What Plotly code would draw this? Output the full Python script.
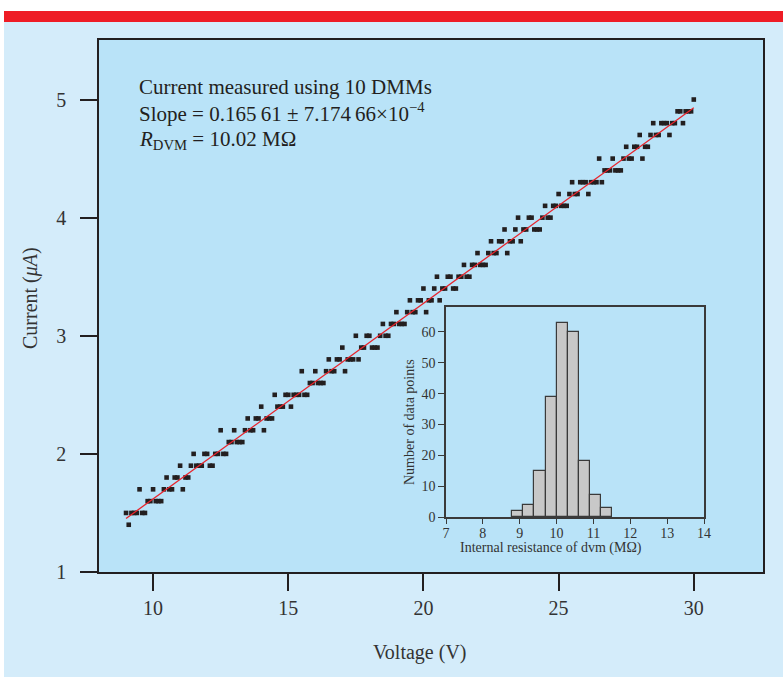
import plotly.graph_objects as go

# ---------------- data ----------------
voltage = [
    9.0, 9.1, 9.2, 9.3, 9.4, 9.5, 9.6, 9.7, 9.8, 9.9,
    10.0, 10.1, 10.2, 10.3, 10.4, 10.5, 10.6, 10.7, 10.8, 10.9,
    11.0, 11.1, 11.2, 11.3, 11.4, 11.5, 11.6, 11.7, 11.8, 11.9,
    12.0, 12.1, 12.2, 12.3, 12.4, 12.5, 12.6, 12.7, 12.8, 12.9,
    13.0, 13.1, 13.2, 13.3, 13.4, 13.5, 13.6, 13.7, 13.8, 13.9,
    14.0, 14.1, 14.2, 14.3, 14.4, 14.5, 14.6, 14.7, 14.8, 14.9,
    15.0, 15.1, 15.2, 15.3, 15.4, 15.5, 15.6, 15.7, 15.8, 15.9,
    16.0, 16.1, 16.2, 16.3, 16.4, 16.5, 16.6, 16.7, 16.8, 16.9,
    17.0, 17.1, 17.2, 17.3, 17.4, 17.5, 17.6, 17.7, 17.8, 17.9,
    18.0, 18.1, 18.2, 18.3, 18.4, 18.5, 18.6, 18.7, 18.8, 18.9,
    19.0, 19.1, 19.2, 19.3, 19.4, 19.5, 19.6, 19.7, 19.8, 19.9,
    20.0, 20.1, 20.2, 20.3, 20.4, 20.5, 20.6, 20.7, 20.8, 20.9,
    21.0, 21.1, 21.2, 21.3, 21.4, 21.5, 21.6, 21.7, 21.8, 21.9,
    22.0, 22.1, 22.2, 22.3, 22.4, 22.5, 22.6, 22.7, 22.8, 22.9,
    23.0, 23.1, 23.2, 23.3, 23.4, 23.5, 23.6, 23.7, 23.8, 23.9,
    24.0, 24.1, 24.2, 24.3, 24.4, 24.5, 24.6, 24.7, 24.8, 24.9,
    25.0, 25.1, 25.2, 25.3, 25.4, 25.5, 25.6, 25.7, 25.8, 25.9,
    26.0, 26.1, 26.2, 26.3, 26.4, 26.5, 26.6, 26.7, 26.8, 26.9,
    27.0, 27.1, 27.2, 27.3, 27.4, 27.5, 27.6, 27.7, 27.8, 27.9,
    28.0, 28.1, 28.2, 28.3, 28.4, 28.5, 28.6, 28.7, 28.8, 28.9,
    29.0, 29.1, 29.2, 29.3, 29.4, 29.5, 29.6, 29.7, 29.8, 29.9,
    30.0,
]
current = [
    1.5, 1.4, 1.5, 1.5, 1.5, 1.7, 1.5, 1.5, 1.6, 1.6,
    1.7, 1.6, 1.6, 1.6, 1.7, 1.8, 1.7, 1.7, 1.8, 1.8,
    1.9, 1.7, 1.8, 1.8, 1.9, 2.0, 1.9, 1.9, 1.9, 2.0,
    2.0, 1.9, 1.9, 2.0, 2.0, 2.2, 2.0, 2.0, 2.1, 2.1,
    2.2, 2.1, 2.1, 2.1, 2.2, 2.3, 2.2, 2.2, 2.3, 2.3,
    2.4, 2.2, 2.3, 2.3, 2.3, 2.5, 2.4, 2.4, 2.4, 2.5,
    2.5, 2.4, 2.5, 2.5, 2.5, 2.7, 2.5, 2.5, 2.6, 2.6,
    2.7, 2.6, 2.6, 2.6, 2.7, 2.8, 2.7, 2.7, 2.8, 2.8,
    2.9, 2.7, 2.8, 2.8, 2.8, 3.0, 2.8, 2.9, 2.9, 3.0,
    3.0, 2.9, 2.9, 2.9, 3.0, 3.1, 3.0, 3.0, 3.1, 3.1,
    3.2, 3.1, 3.1, 3.1, 3.2, 3.3, 3.2, 3.2, 3.3, 3.3,
    3.4, 3.2, 3.3, 3.3, 3.4, 3.5, 3.3, 3.4, 3.4, 3.5,
    3.5, 3.4, 3.4, 3.5, 3.5, 3.6, 3.5, 3.5, 3.6, 3.6,
    3.7, 3.6, 3.6, 3.6, 3.7, 3.8, 3.7, 3.7, 3.8, 3.8,
    3.9, 3.7, 3.8, 3.8, 3.9, 4.0, 3.8, 3.9, 3.9, 4.0,
    4.0, 3.9, 3.9, 3.9, 4.0, 4.1, 4.0, 4.0, 4.1, 4.1,
    4.2, 4.1, 4.1, 4.1, 4.2, 4.3, 4.2, 4.2, 4.3, 4.3,
    4.3, 4.2, 4.3, 4.3, 4.3, 4.5, 4.3, 4.4, 4.4, 4.4,
    4.5, 4.4, 4.4, 4.4, 4.5, 4.6, 4.5, 4.5, 4.6, 4.6,
    4.7, 4.5, 4.6, 4.6, 4.7, 4.8, 4.7, 4.7, 4.8, 4.8,
    4.8, 4.7, 4.8, 4.8, 4.9, 4.9, 4.8, 4.9, 4.9, 4.9,
    5.0,
]
fit_voltage = [9.0, 30.0]
fit_current = [1.453, 4.93]

bin_left = [8.8, 9.1, 9.4, 9.7, 10.0, 10.3, 10.6, 10.9, 11.2]
bin_counts = [2, 4, 15, 39, 63, 60, 18, 7, 3]
bin_width = 0.3

x_ticks = [10, 15, 20, 25, 30]
y_ticks = [1, 2, 3, 4, 5]
inset_x_ticks = [7, 8, 9, 10, 11, 12, 13, 14]
inset_y_ticks = [0, 10, 20, 30, 40, 50, 60]

# ---------------- layout helpers ----------------
W, H = 783, 677
ML, MR, MT, MB = 99, 20, 40, 105
PW, PH = W - ML - MR, H - MT - MB


def fx(px):
    return (px - ML) / PW


def fy(py):
    return (H - MB - py) / PH


SERIF = "Liberation Serif, Times New Roman, serif"
INK = "#231F20"
TICKINK = "#333333"

fig = go.Figure()

fig.add_trace(go.Scatter(
    x=voltage, y=current, mode="markers",
    marker=dict(symbol="square", size=4.6, color=INK, line=dict(width=0)),
    xaxis="x", yaxis="y", showlegend=False, hoverinfo="x+y",
))
fig.add_trace(go.Scatter(
    x=fit_voltage, y=fit_current, mode="lines",
    line=dict(color="#E8242C", width=1.3),
    xaxis="x", yaxis="y", showlegend=False,
))
fig.add_trace(go.Bar(
    x=bin_left, y=bin_counts, width=bin_width, offset=0,
    marker=dict(color="#C8C8C8", line=dict(color="#3A3A3A", width=1.2)),
    xaxis="x2", yaxis="y2", showlegend=False,
))

fig.update_layout(
    width=W, height=H,
    margin=dict(l=ML, r=MR, t=MT, b=MB, pad=0),
    paper_bgcolor="#D4ECFA",
    plot_bgcolor="#B9E3F8",
    font=dict(family=SERIF, color=INK),
    bargap=0,
    xaxis=dict(
        domain=[0, 1], range=[8.0, 32.56], anchor="y",
        tickvals=x_ticks, ticks="outside", ticklen=17, tickwidth=1.5, tickcolor=INK,
        showline=True, mirror=True, linecolor=INK, linewidth=1.6,
        showgrid=False, zeroline=False,
        tickfont=dict(family=SERIF, size=20, color=TICKINK),
        ticklabelstandoff=0,
    ),
    yaxis=dict(
        domain=[0, 1], range=[1.0, 5.504], anchor="x",
        tickvals=y_ticks, ticks="outside", ticklen=17, tickwidth=1.5, tickcolor=INK,
        showline=True, mirror=True, linecolor=INK, linewidth=1.6,
        showgrid=False, zeroline=False,
        tickfont=dict(family=SERIF, size=20, color=TICKINK),
        ticklabelstandoff=10,
    ),
    xaxis2=dict(
        domain=[fx(446), fx(704)], range=[7, 14], anchor="y2",
        tickvals=inset_x_ticks, ticks="outside", ticklen=5, tickwidth=1.2, tickcolor="#3A3A3A",
        showline=True, mirror=True, linecolor="#3A3A3A", linewidth=1.5,
        showgrid=False, zeroline=False,
        tickfont=dict(family=SERIF, size=14, color=TICKINK),
        ticklabelstandoff=-3,
    ),
    yaxis2=dict(
        domain=[fy(517), fy(307)], range=[0, 68.1], anchor="x2",
        tickvals=inset_y_ticks, ticks="outside", ticklen=6, tickwidth=1.2, tickcolor="#3A3A3A",
        showline=True, mirror=True, linecolor="#3A3A3A", linewidth=1.5,
        showgrid=False, zeroline=False,
        tickfont=dict(family=SERIF, size=14, color=TICKINK),
    ),
    shapes=[
        dict(type="rect", xref="paper", yref="paper", x0=fx(-5), x1=fx(W + 5), y0=fy(11), y1=fy(-5),
             fillcolor="white", line=dict(width=0), layer="below"),
        dict(type="rect", xref="paper", yref="paper", x0=fx(-5), x1=fx(4), y0=fy(H + 5), y1=fy(-5),
             fillcolor="white", line=dict(width=0), layer="below"),
        dict(type="rect", xref="paper", yref="paper", x0=fx(4), x1=fx(W + 5), y0=fy(22), y1=fy(11),
             fillcolor="#EE1C25", line=dict(width=0), layer="below"),
    ],
)

annotations = [
    dict(text="Current measured using 10 DMMs", x=fx(137), y=fy(87), font=dict(size=21)),
    dict(text="Slope = 0.165\u200961 \u00b1 7.174\u200966\u00d710<sup>\u22124</sup>", x=fx(137), y=fy(113), font=dict(size=21)),
    dict(text="<i>R</i><sub>DVM</sub> = 10.02 M\u03a9", x=fx(137), y=fy(140), font=dict(size=21)),
]
for a in annotations:
    a.update(xref="paper", yref="paper", xanchor="left", yanchor="middle", showarrow=False)
    a["font"].update(family=SERIF, color=INK)

annotations += [
    dict(text="Voltage (V)", x=fx(420), y=fy(652), xref="paper", yref="paper",
         xanchor="center", yanchor="middle", showarrow=False,
         font=dict(family=SERIF, size=20, color=TICKINK)),
    dict(text="Current (<i>\u03bcA</i>)", x=fx(30), y=fy(298), xref="paper", yref="paper",
         xanchor="center", yanchor="middle", showarrow=False, textangle=-90,
         font=dict(family=SERIF, size=20, color=TICKINK)),
    dict(text="Internal resistance of dvm (M\u03a9)", x=fx(551), y=fy(548), xref="paper", yref="paper",
         xanchor="center", yanchor="middle", showarrow=False,
         font=dict(family=SERIF, size=14, color=TICKINK)),
    dict(text="Number of data points", x=fx(409), y=fy(422), xref="paper", yref="paper",
         xanchor="center", yanchor="middle", showarrow=False, textangle=-90,
         font=dict(family=SERIF, size=14, color=TICKINK)),
]
fig.update_layout(annotations=annotations)

fig.write_html(
    "out.html",
    config={"displayModeBar": False},
    post_script="document.body.style.margin='0px'; document.body.style.overflow='hidden';",
)
